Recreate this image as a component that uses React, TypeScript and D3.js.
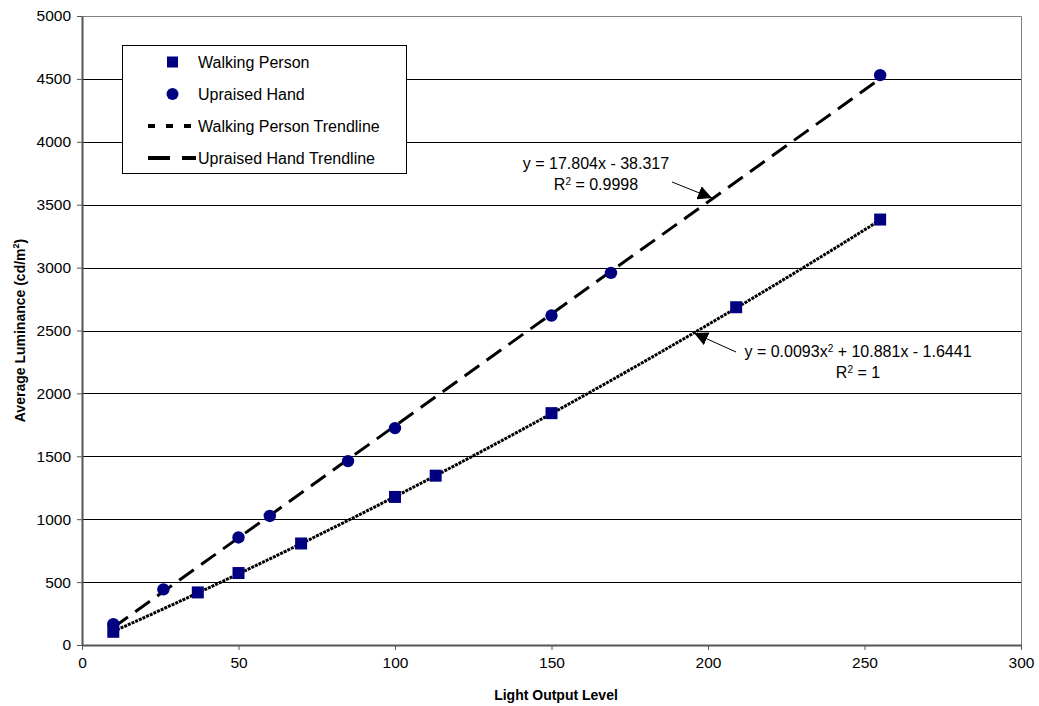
import { useRef, useEffect } from "react";
import * as d3 from "d3";

const walkX = [10, 37, 50, 70, 100, 113, 150, 209, 255];
const walkY = [105, 418, 572, 807, 1177, 1346, 1843, 2685, 3382];
const handX = [10, 26, 50, 60, 85, 100, 150, 169, 255];
const handY = [165, 442, 855, 1026, 1462, 1724, 2619, 2958, 4530];

const xTicks = [0, 50, 100, 150, 200, 250, 300];
const yTicks = [0, 500, 1000, 1500, 2000, 2500, 3000, 3500, 4000, 4500, 5000];

// trendline coefficients as printed on the chart
const walkFit = [0.0093, 10.881, -1.6441];
const handFit = [17.804, -38.317];

const FONT = "Liberation Sans, Arial, sans-serif";
const NAVY = "#000080";

export default function App() {
  const svgRef = useRef<SVGSVGElement>(null);

  useEffect(() => {
    drawChart();
  }, []);

  function drawChart() {
    if (!svgRef.current) return;
    const svg = d3.select(svgRef.current);
    svg.selectAll("*").remove();

    const left = 82,
      right = 1021,
      top = 16,
      bottom = 645;

    const x = d3.scaleLinear().domain([0, 300]).range([left, right]);
    const y = d3.scaleLinear().domain([0, 5000]).range([bottom, top]);

    // gridlines
    svg
      .append("g")
      .selectAll("line")
      .data(yTicks.filter((t) => t > 0))
      .enter()
      .append("line")
      .attr("x1", left)
      .attr("x2", right)
      .attr("y1", (d) => Math.round(y(d)) + 0.5)
      .attr("y2", (d) => Math.round(y(d)) + 0.5)
      .attr("stroke", "#000")
      .attr("stroke-width", 1);

    // plot border (top/right)
    svg
      .append("path")
      .attr("d", `M${left},${top + 0.5}H${right + 0.5}V${bottom}`)
      .attr("fill", "none")
      .attr("stroke", "#808080")
      .attr("stroke-width", 1);

    // axes
    const xAxis = svg
      .append("g")
      .attr("transform", `translate(0,${bottom})`)
      .call(d3.axisBottom(x).tickValues(xTicks).tickSize(5).tickSizeOuter(0));
    const yAxis = svg
      .append("g")
      .attr("transform", `translate(${left},0)`)
      .call(
        d3.axisLeft(y).tickValues(yTicks).tickSize(5).tickSizeOuter(0).tickFormat(d3.format("d"))
      );
    [xAxis, yAxis].forEach((g) => {
      g.attr("font-size", null).attr("font-family", null);
      g.select(".domain").attr("stroke", "#555").attr("stroke-width", 2);
      g.selectAll(".tick line").attr("stroke", "#555").attr("stroke-width", 1);
      g.selectAll(".tick text")
        .style("font-family", FONT)
        .style("font-size", "15.5px")
        .attr("fill", "#000");
    });
    xAxis.selectAll(".tick text").attr("y", 12).attr("dy", "0.71em");
    yAxis.selectAll(".tick text").attr("x", -11);

    // axis titles
    svg
      .append("text")
      .attr("x", 556)
      .attr("y", 700)
      .attr("text-anchor", "middle")
      .style("font-family", FONT)
      .style("font-size", "14px")
      .attr("font-weight", "bold")
      .text("Light Output Level");

    const yTitle = svg
      .append("text")
      .attr("transform", `translate(25,${(top + bottom) / 2}) rotate(-90)`)
      .attr("text-anchor", "middle")
      .style("font-family", FONT)
      .style("font-size", "14px")
      .attr("font-weight", "bold");
    yTitle.append("tspan").text("Average Luminance (cd/m");
    yTitle.append("tspan").style("font-size", "9px").attr("dy", -6).text("2");
    yTitle.append("tspan").attr("dy", 6).text(")");

    // trendlines
    const xs = d3.range(10, 255.5, 1);
    const line = d3
      .line<number[]>()
      .x((d) => x(d[0]))
      .y((d) => y(d[1]));

    svg
      .append("path")
      .attr("d", line([10, 255].map((v) => [v, handFit[0] * v + handFit[1]])))
      .attr("fill", "none")
      .attr("stroke", "#000")
      .attr("stroke-width", 3)
      .attr("stroke-dasharray", "18 9");

    svg
      .append("path")
      .attr(
        "d",
        line(xs.map((v) => [v, walkFit[0] * v * v + walkFit[1] * v + walkFit[2]]))
      )
      .attr("fill", "none")
      .attr("stroke", "#000")
      .attr("stroke-width", 3)
      .attr("stroke-dasharray", "3 1");

    // markers
    svg
      .append("g")
      .selectAll("rect")
      .data(walkX)
      .enter()
      .append("rect")
      .attr("x", (d) => x(d) - 6)
      .attr("y", (d, i) => y(walkY[i]) - 6)
      .attr("width", 12)
      .attr("height", 12)
      .attr("fill", NAVY);

    svg
      .append("g")
      .selectAll("circle")
      .data(handX)
      .enter()
      .append("circle")
      .attr("cx", (d) => x(d))
      .attr("cy", (d, i) => y(handY[i]))
      .attr("r", 6.2)
      .attr("fill", NAVY);

    // annotations
    const defs = svg.append("defs");
    defs
      .append("marker")
      .attr("id", "arrow")
      .attr("viewBox", "0 0 10 10")
      .attr("refX", 10)
      .attr("refY", 5)
      .attr("markerWidth", 14)
      .attr("markerHeight", 14)
      .attr("markerUnits", "userSpaceOnUse")
      .attr("orient", "auto")
      .append("path")
      .attr("d", "M0,0L10,5L0,10Z")
      .attr("fill", "#000");

    const label = (cx: number, cy: number, eq: string[], r2: string) => {
      const t = svg
        .append("text")
        .attr("x", cx)
        .attr("y", cy)
        .attr("text-anchor", "middle")
        .style("font-family", FONT)
        .style("font-size", "16px");
      eq.forEach((s, i) => {
        if (i % 2 === 0) t.append("tspan").text(s);
        else t.append("tspan").style("font-size", "10px").attr("baseline-shift", "super").text(s);
      });
      const t2 = svg
        .append("text")
        .attr("x", cx)
        .attr("y", cy + 21)
        .attr("text-anchor", "middle")
        .style("font-family", FONT)
        .style("font-size", "16px");
      t2.append("tspan").text("R");
      t2.append("tspan").style("font-size", "10px").attr("baseline-shift", "super").text("2");
      t2.append("tspan").text(" = " + r2);
    };

    label(596, 169, ["y = 17.804x - 38.317"], "0.9998");
    label(858, 357, ["y = 0.0093x", "2", " + 10.881x - 1.6441"], "1");

    svg
      .append("line")
      .attr("x1", 672)
      .attr("y1", 182)
      .attr("x2", 712)
      .attr("y2", 198)
      .attr("stroke", "#000")
      .attr("stroke-width", 1)
      .attr("marker-end", "url(#arrow)");
    svg
      .append("line")
      .attr("x1", 736)
      .attr("y1", 352)
      .attr("x2", 694)
      .attr("y2", 333)
      .attr("stroke", "#000")
      .attr("stroke-width", 1)
      .attr("marker-end", "url(#arrow)");

    // legend
    const lg = svg.append("g");
    lg.append("rect")
      .attr("x", 122.5)
      .attr("y", 45.5)
      .attr("width", 284)
      .attr("height", 128)
      .attr("fill", "#fff")
      .attr("stroke", "#000")
      .attr("stroke-width", 1);

    const rows = [
      { name: "Walking Person", kind: "square" },
      { name: "Upraised Hand", kind: "circle" },
      { name: "Walking Person Trendline", kind: "dot" },
      { name: "Upraised Hand Trendline", kind: "dash" },
    ];
    rows.forEach((r, i) => {
      const ry = 62 + i * 32;
      if (r.kind === "square")
        lg.append("rect").attr("x", 167).attr("y", ry - 5.5).attr("width", 11).attr("height", 11).attr("fill", NAVY);
      else if (r.kind === "circle")
        lg.append("circle").attr("cx", 172.5).attr("cy", ry).attr("r", 6).attr("fill", NAVY);
      else
        lg.append("line")
          .attr("x1", 148)
          .attr("x2", r.kind === "dot" ? 193 : 196)
          .attr("y1", ry)
          .attr("y2", ry)
          .attr("stroke", "#000")
          .attr("stroke-width", 4)
          .attr("stroke-dasharray", r.kind === "dot" ? "7 11" : "22 12");
      lg.append("text")
        .attr("x", 198)
        .attr("y", ry + 5.5)
        .style("font-family", FONT)
        .style("font-size", "16px")
        .text(r.name);
    });
  }

  return (
    <svg
      ref={svgRef}
      width={1039}
      height={706}
      style={{ position: "absolute", left: 0, top: 0, background: "#fff" }}
    />
  );
}
